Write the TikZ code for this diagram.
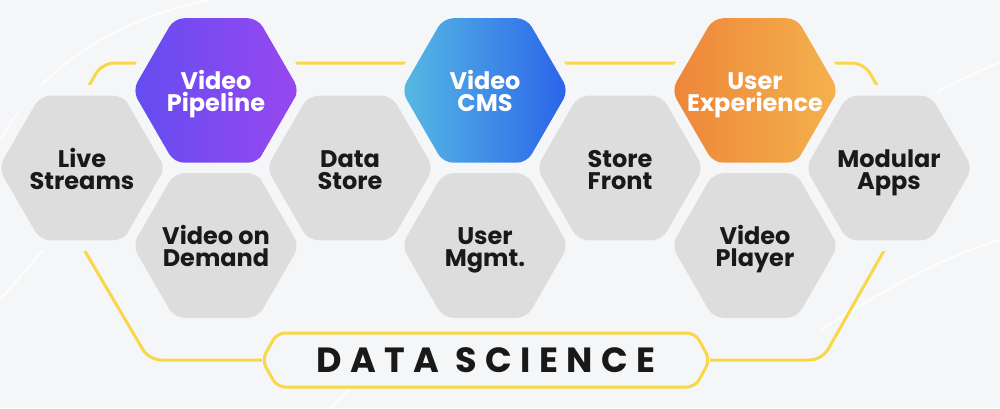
\documentclass[tikz,border=0pt]{standalone}
\usepackage{fontspec}
\setmainfont{Poppins}
\usetikzlibrary{shapes.geometric,calc}
\definecolor{bg}{HTML}{F5F6F8}
\definecolor{hexgrey}{HTML}{DDDDDD}
\definecolor{txt}{HTML}{191919}
\definecolor{yl}{HTML}{F8D748}
\definecolor{vpL}{HTML}{634DF1}
\definecolor{vpR}{HTML}{9947EF}
\definecolor{cmsL}{HTML}{56BAE3}
\definecolor{cmsR}{HTML}{2B63EA}
\definecolor{uxL}{HTML}{EE8539}
\definecolor{uxR}{HTML}{F4B24D}
\newcommand{\hxtext}[2]{\raisebox{0pt}[20pt][0pt]{\makebox[0pt]{#1}}\\\raisebox{0pt}[18pt][0pt]{\makebox[0pt]{#2}}}
\tikzset{
  hexa/.style={regular polygon, regular polygon sides=6, minimum size=167pt,
    inner sep=0pt, rounded corners=10pt,
    preaction={draw=bg, line width=21pt},
    font=\fontsize{24}{22}\selectfont\bfseries, align=center},
  greyhex/.style={hexa, fill=hexgrey, text=txt},
  vphex/.style={hexa, left color=vpL, right color=vpR, text=white},
  cmshex/.style={hexa, left color=cmsL, right color=cmsR, text=white},
  uxhex/.style={hexa, left color=uxL, right color=uxR, text=white},
  yline/.style={draw=yl, line width=3pt},
  swirl/.style={draw=white, line width=2.5pt, opacity=0.75}
}
\begin{document}
\begin{tikzpicture}[x=1pt,y=-1pt]
\fill[bg] (0,0) rectangle (1000,408);
\useasboundingbox (0,0) rectangle (1000,408);
% faint background swooshes
\path[swirl] (0,140) .. controls (40,70) and (110,20) .. (210,0);
\path[swirl] (0,300) .. controls (60,230) and (90,200) .. (120,170);
\path[swirl] (900,110) .. controls (940,90) and (970,75) .. (1000,62);
\path[swirl] (820,330) .. controls (900,280) and (950,255) .. (1000,240);
\path[swirl] (330,408) .. controls (360,380) and (380,360) .. (400,345);

% data science box anchor
\coordinate (dsc) at (486,360);
\coordinate (tipL) at ($(dsc)+(-224,0)$);
\coordinate (tipR) at ($(dsc)+(224,0)$);

% yellow outline
\draw[yline, rounded corners=12pt] (tipL) -- (149,360) -- (39,173) -- (102,63)
  -- (864,63) -- (928,173) -- (822,360) -- (tipR);

% data science box
\draw[yline, fill=bg, rounded corners=8pt] (tipL) -- ($(dsc)+(-209,-27)$)
  -- ($(dsc)+(209,-27)$) -- (tipR) -- ($(dsc)+(209,27)$)
  -- ($(dsc)+(-209,27)$) -- cycle;
\node[text=txt, font=\fontsize{35}{35}\selectfont\bfseries\addfontfeature{LetterSpace=24}]
  (ds) at ($(dsc)+(0,0)$) {DATA SCIENCE};

% hexagons
\node[greyhex] (live) at (82,168) {\hxtext{Live}{Streams}};
\node[vphex]   (vp)   at (216,90.5) {\hxtext{Video}{Pipeline}};
\node[greyhex] (vod)  at (216,245.5) {\hxtext{Video on}{Demand}};
\node[greyhex] (dstore) at (350,168) {\hxtext{Data}{Store}};
\node[cmshex]  (cms)  at (485,90.5) {\hxtext{Video}{CMS}};
\node[greyhex] (um)   at (485,245.5) {\hxtext{User}{Mgmt.}};
\node[greyhex] (sf)   at (620,168) {\hxtext{Store}{Front}};
\node[uxhex]   (ux)   at (755,90.5) {\hxtext{User}{Experience}};
\node[greyhex] (vpl)  at (755,245.5) {\hxtext{Video}{Player}};
\node[greyhex] (mod)  at (889,168) {\hxtext{Modular}{Apps}};
\end{tikzpicture}
\end{document}
